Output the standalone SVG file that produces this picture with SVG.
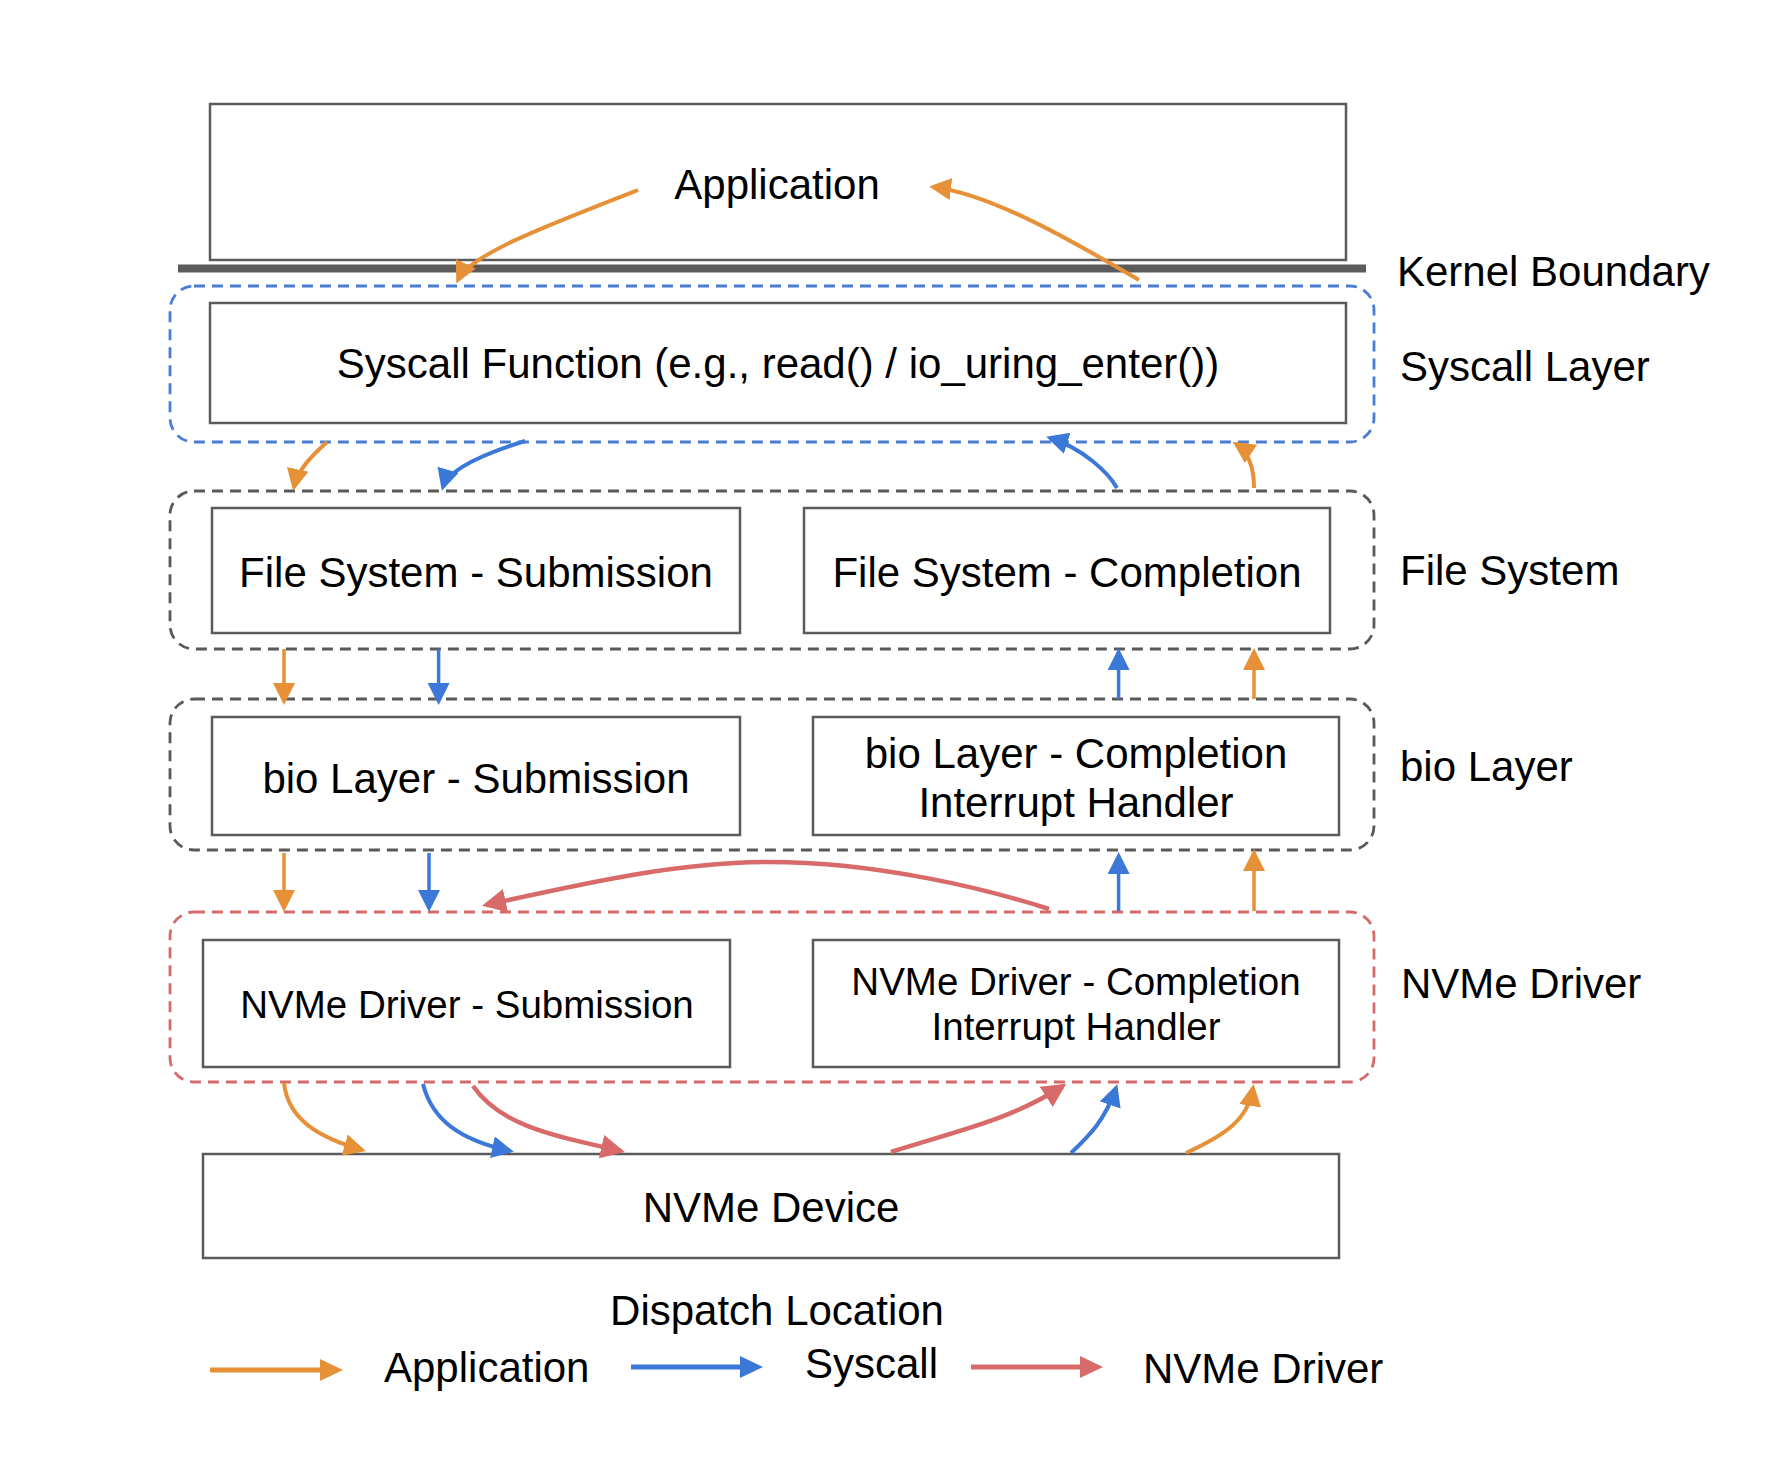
<svg xmlns="http://www.w3.org/2000/svg" width="1792" height="1468" viewBox="0 0 1792 1468">
<style>
.box{fill:#ffffff;stroke:#5b5b5b;stroke-width:2.5}
.t{font-family:"Liberation Sans",Arial,Helvetica,sans-serif;font-size:42px;fill:#000000;text-anchor:middle}
.t.sm{font-size:38.5px}
.lbl{font-family:"Liberation Sans",Arial,Helvetica,sans-serif;font-size:42px;fill:#000000}
.grp{fill:none;stroke-width:2.8;stroke-dasharray:11 7}
.o{fill:none;stroke:#E69138;stroke-width:4;marker-end:url(#mo)}
.b{fill:none;stroke:#3C78D8;stroke-width:4;marker-end:url(#mb)}
.r{fill:none;stroke:#D86A6A;stroke-width:4.5;marker-end:url(#mr)}
.s{stroke-width:3.5}
</style>
<defs>
<marker id="mo" markerUnits="userSpaceOnUse" markerWidth="24" markerHeight="24" refX="18" refY="11" orient="auto"><path d="M0,0 L22,11 L0,22 z" fill="#E69138"/></marker>
<marker id="mb" markerUnits="userSpaceOnUse" markerWidth="24" markerHeight="24" refX="18" refY="11" orient="auto"><path d="M0,0 L22,11 L0,22 z" fill="#3C78D8"/></marker>
<marker id="mr" markerUnits="userSpaceOnUse" markerWidth="26" markerHeight="26" refX="20" refY="12" orient="auto"><path d="M0,0 L24,12 L0,24 z" fill="#D86A6A"/></marker>
</defs>
<rect width="1792" height="1468" fill="#ffffff"/>

<g id="layers">
<rect class="grp" x="170" y="286" width="1204" height="156" rx="24" stroke="#4A7DD2"/>
<rect class="grp" x="170" y="491" width="1204" height="158" rx="24" stroke="#595959"/>
<rect class="grp" x="170" y="699" width="1204" height="151" rx="24" stroke="#595959"/>
<rect class="grp" x="170" y="912" width="1204" height="170" rx="24" stroke="#D46A6A"/>
<line x1="178" y1="268.5" x2="1366" y2="268.5" stroke="#5b5b5b" stroke-width="8"/>
<text class="lbl" x="1397" y="286">Kernel Boundary</text>
<text class="lbl" x="1400" y="381">Syscall Layer</text>
<text class="lbl" x="1400" y="585">File System</text>
<text class="lbl" x="1400" y="781">bio Layer</text>
<text class="lbl" x="1401" y="998">NVMe Driver</text>
</g>

<g id="application"><rect class="box" x="210" y="104" width="1136" height="156"/><text class="t" x="777" y="199">Application</text></g>
<g id="syscall"><rect class="box" x="210" y="303" width="1136" height="120"/><text class="t" x="778" y="378">Syscall Function (e.g., read() / io_uring_enter())</text></g>
<g id="fs-sub"><rect class="box" x="212" y="508" width="528" height="125"/><text class="t" x="476" y="587">File System - Submission</text></g>
<g id="fs-comp"><rect class="box" x="804" y="508" width="526" height="125"/><text class="t" x="1067" y="587">File System - Completion</text></g>
<g id="bio-sub"><rect class="box" x="212" y="717" width="528" height="118"/><text class="t" x="476" y="793">bio Layer - Submission</text></g>
<g id="bio-comp"><rect class="box" x="813" y="717" width="526" height="118"/><text class="t" x="1076" y="768">bio Layer - Completion</text><text class="t" x="1076" y="817">Interrupt Handler</text></g>
<g id="nvme-sub"><rect class="box" x="203" y="940" width="527" height="127"/><text class="t sm" x="467" y="1018">NVMe Driver - Submission</text></g>
<g id="nvme-comp"><rect class="box" x="813" y="940" width="526" height="127"/><text class="t sm" x="1076" y="995">NVMe Driver - Completion</text><text class="t sm" x="1076" y="1040">Interrupt Handler</text></g>
<g id="nvme-device"><rect class="box" x="203" y="1154" width="1136" height="104"/><text class="t" x="771" y="1222">NVMe Device</text></g>

<g id="connectors">
<path class="o" d="M638,190 C540,228 470,255 458,280"/>
<path class="o" d="M1139,280 C1100,258 1000,195 933,187"/>
<path class="o" d="M327,442 C316,452 298,468 294,487"/>
<path class="b" d="M525,441 C480,455 448,470 443,487"/>
<path class="b" d="M1117,488 C1108,472 1082,448 1050,438"/>
<path class="o" d="M1254,488 C1254,466 1248,452 1236,444"/>
<path class="o s" d="M284,649 L284,701"/>
<path class="b s" d="M438.6,649 L438.6,701"/>
<path class="b s" d="M1118.6,699 L1118.6,652"/>
<path class="o s" d="M1254,699 L1254,652"/>
<path class="o s" d="M284,853 L284,908"/>
<path class="b s" d="M429,853 L429,908"/>
<path class="b s" d="M1118.6,911 L1118.6,856"/>
<path class="o s" d="M1254,911 L1254,853"/>
<path class="r" d="M1049,909 C990,890 880,862 768,862 C680,862 590,882 486,905"/>
<path class="o" d="M284,1083 C288,1120 320,1138 362,1150"/>
<path class="b" d="M423,1084 C432,1120 460,1140 510,1151"/>
<path class="r" d="M473,1086 C500,1125 550,1135 621,1151"/>
<path class="r" d="M891,1152 C960,1130 1010,1120 1063,1086"/>
<path class="b" d="M1071,1153 C1090,1135 1105,1120 1116,1088"/>
<path class="o" d="M1186,1153 C1225,1135 1248,1120 1253,1088"/>
</g>

<g id="legend">
<text class="t" x="777" y="1325">Dispatch Location</text>
<line x1="210" y1="1370" x2="322" y2="1370" stroke="#E69138" stroke-width="5"/>
<path d="M320,1359 L343,1370 L320,1381 z" fill="#E69138"/>
<text class="lbl" x="384" y="1382">Application</text>
<line x1="631" y1="1367" x2="742" y2="1367" stroke="#3C78D8" stroke-width="5"/>
<path d="M740,1356 L763,1367 L740,1378 z" fill="#3C78D8"/>
<text class="lbl" x="805" y="1378">Syscall</text>
<line x1="971" y1="1367" x2="1082" y2="1367" stroke="#D86A6A" stroke-width="5"/>
<path d="M1080,1356 L1103,1367 L1080,1378 z" fill="#D86A6A"/>
<text class="lbl" x="1143" y="1383">NVMe Driver</text>
</g>
</svg>
